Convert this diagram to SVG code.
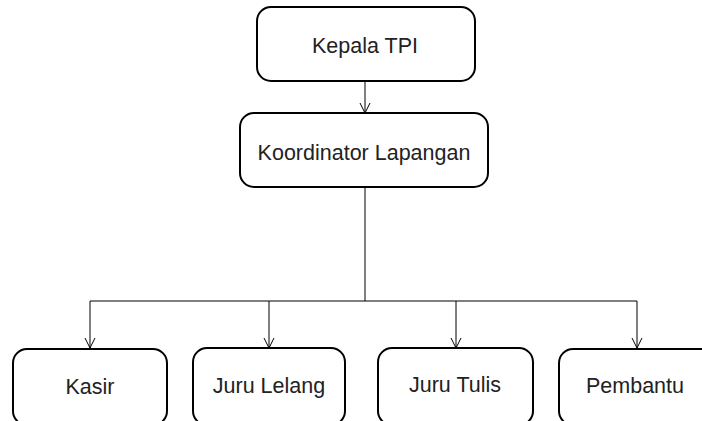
<svg xmlns="http://www.w3.org/2000/svg" width="702" height="421" viewBox="0 0 702 421">
<style>
.box{fill:#fff;stroke:#000;stroke-width:2}
.lbl{font-family:"Liberation Sans",Arial,sans-serif;font-size:21.5px;fill:#222;text-anchor:middle}
.con{fill:none;stroke:#000;stroke-width:1}
</style>
<defs>
<marker id="arr" markerWidth="12" markerHeight="12" refX="11" refY="6" orient="auto" markerUnits="userSpaceOnUse" viewBox="0 0 12 12">
<path d="M1,1 L11,6 L1,11" fill="none" stroke="#000" stroke-width="1"/>
</marker>
</defs>
<rect width="702" height="421" fill="#fff"/>
<g id="connectors">
<line class="con" x1="365" y1="81" x2="365" y2="113" marker-end="url(#arr)"/>
<line class="con" x1="365" y1="187" x2="365" y2="301"/>
<line class="con" x1="90" y1="301" x2="637" y2="301"/>
<line class="con" x1="90" y1="301" x2="90" y2="348" marker-end="url(#arr)"/>
<line class="con" x1="269" y1="301" x2="269" y2="348" marker-end="url(#arr)"/>
<line class="con" x1="456" y1="301" x2="456" y2="348" marker-end="url(#arr)"/>
<line class="con" x1="637" y1="301" x2="637" y2="348" marker-end="url(#arr)"/>
</g>
<g id="kepala">
<rect class="box" x="257" y="7" width="218" height="74" rx="14"/>
<text class="lbl" x="365" y="53">Kepala TPI</text>
</g>
<g id="koordinator">
<rect class="box" x="240" y="113" width="248" height="74" rx="14"/>
<text class="lbl" x="364" y="160">Koordinator Lapangan</text>
</g>
<g id="kasir">
<rect class="box" x="13" y="349" width="154" height="76" rx="14"/>
<text class="lbl" x="90" y="394">Kasir</text>
</g>
<g id="juru-lelang">
<rect class="box" x="193" y="348" width="152" height="77" rx="14"/>
<text class="lbl" x="269" y="393">Juru Lelang</text>
</g>
<g id="juru-tulis">
<rect class="box" x="378" y="348" width="155" height="77" rx="14"/>
<text class="lbl" x="455" y="392">Juru Tulis</text>
</g>
<g id="pembantu">
<rect class="box" x="559" y="349" width="160" height="76" rx="14"/>
<text class="lbl" x="635" y="393">Pembantu</text>
</g>
</svg>
